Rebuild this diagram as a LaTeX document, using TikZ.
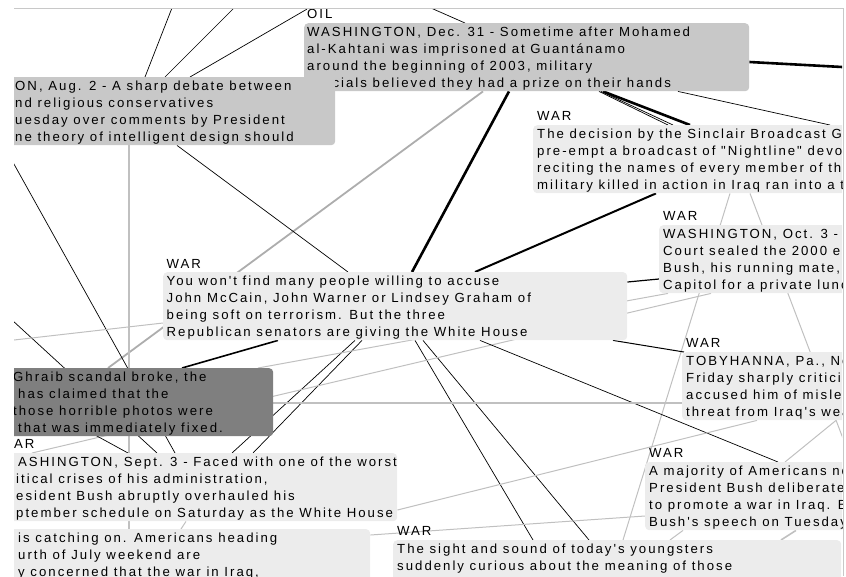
\documentclass[tikz,border=0pt]{standalone}
\usepackage{fontspec}
\newfontfamily\bx{Liberation Sans}[LetterSpace=15.2,Ligatures=TeXOff]
\usetikzlibrary{calc,backgrounds}
\definecolor{boxmid}{HTML}{C8C8C8}
\definecolor{boxlight}{HTML}{ECECEC}
\definecolor{boxdark}{HTML}{7F7F7F}
\definecolor{edgegray}{HTML}{C0C0C0}
\definecolor{framegray}{HTML}{C8C8C8}
\begin{document}
\begin{tikzpicture}[x=1pt,y=-1pt,
  card/.style={draw=none, rounded corners=4pt, anchor=north west, inner sep=0pt, minimum height=68pt},
  txt/.style={font=\bx\fontsize{13.2}{17}\selectfont, align=left, inner sep=0pt, anchor=north west, execute at begin node={\rule{0pt}{9.8pt}}},
  lbl/.style={font=\bx\fontsize{13.2}{17}\selectfont, inner sep=0pt, anchor=base west},
  thinline/.style={draw=black, line width=0.7pt},
  boldline/.style={draw=black, line width=2.6pt},
  midline/.style={draw=black, line width=1.6pt},
  grayline/.style={draw=edgegray, line width=1pt},
  grayboldline/.style={draw=edgegray!90!black, line width=1.8pt},
]
\useasboundingbox (0,0) rectangle (846,576);
\coordinate (t1) at (179,-10);
\coordinate (t2) at (252,-10);
\coordinate (t4) at (390,-10);
\coordinate (t5) at (870,68.5);
\coordinate (t12) at (0,139);
\coordinate (t13) at (0,309);
\coordinate (t14) at (0,341.6);
\coordinate (t21) at (850,457);
\coordinate (t31) at (0,383);
\coordinate (fr1) at (14,8);
\coordinate (fr2) at (843,8);
\coordinate (fr3) at (843,576);

\begin{scope}
\clip (14,8) rectangle (842,576);
% OIL box
\node[card, fill=boxmid, minimum width=445pt] (A) at (304,23) {};
\node[txt] (At) at (307,26.9) {WASHINGTON, Dec. 31 - Sometime after Mohamed\\al-Kahtani was imprisoned at Guantánamo\\around the beginning of 2003, military\\officials believed they had a prize on their hands};
\node[lbl] (Al) at (307,18.5) {OIL};
% Aug 2 box
\node[card, fill=boxmid, minimum width=325pt] (B) at (10,77) {};
\node[txt] (Bt) at (15,81.2) {ON, Aug. 2 - A sharp debate between\\nd religious conservatives\\uesday over comments by President\\ne theory of intelligent design should};
% Sinclair box
\node[card, fill=boxlight, minimum width=330pt] (C) at (533,125) {};
\node[txt] (Ct) at (537,129.2) {The decision by the Sinclair Broadcast Gr\\pre-empt a broadcast of "Nightline" devot\\reciting the names of every member of th\\military killed in action in Iraq ran into a to};
\node[lbl] (Cl) at (537,120.5) {WAR};
% Oct 3 box
\node[card, fill=boxlight, minimum width=220pt] (D) at (659,225) {};
\node[txt] (Dt) at (663,229.2) {WASHINGTON, Oct. 3 -\\Court sealed the 2000 e\\Bush, his running mate,\\Capitol for a private lunc};
\node[lbl] (Dl) at (663,220.5) {WAR};
% McCain box
\node[card, fill=boxlight, minimum width=464pt] (E) at (163,272) {};
\node[txt] (Et) at (166.5,276.2) {You won't find many people willing to accuse\\John McCain, John Warner or Lindsey Graham of\\being soft on terrorism. But the three\\Republican senators are giving the White House};
\node[lbl] (El) at (166.5,268.5) {WAR};
% Abu Ghraib box
\node[card, fill=boxdark, minimum width=263pt] (F) at (10,368) {};
\node[txt] (Ft) at (13,372.2) {Ghraib scandal broke, the\\\hspace*{5pt}has claimed that the\\those horrible photos were\\\hspace*{5pt}that was immediately fixed.};
% TOBYHANNA box
\node[card, fill=boxlight, minimum width=220pt] (I) at (682,352) {};
\node[txt] (It) at (686,356.2) {TOBYHANNA, Pa., No\\Friday sharply criticize\\accused him of mislea\\threat from Iraq's wea};
\node[lbl] (Il) at (686,347.5) {WAR};
% Majority box
\node[card, fill=boxlight, minimum width=250pt] (J) at (645,462) {};
\node[txt] (Jt) at (649,466.2) {A majority of Americans no\\President Bush deliberatel\\to promote a war in Iraq. B\\Bush's speech on Tuesday};
\node[lbl] (Jl) at (649,457.5) {WAR};
% Sept 3 box
\node[card, fill=boxlight, minimum width=387pt] (G) at (10,453) {};
\node[txt] (Gt) at (16,457.2) {\hspace*{2pt}ASHINGTON, Sept. 3 - Faced with one of the worst\\itical crises of his administration,\\esident Bush abruptly overhauled his\\ptember schedule on Saturday as the White House};
\node[lbl] (Gl) at (14,448.5) {AR};
% July box
\node[card, fill=boxlight, minimum width=360pt] (H) at (10,529) {};
\node[txt] (Ht) at (18,533.2) {is catching on. Americans heading\\urth of July weekend are\\y concerned that the war in Iraq,};
% Youngsters box
\node[card, fill=boxlight, minimum width=448pt] (K) at (393,540) {};
\node[txt] (Kt) at (397,544.2) {The sight and sound of today's youngsters\\suddenly curious about the meaning of those};
\node[lbl] (Kl) at (397,535.5) {WAR};
\end{scope}

\begin{pgfonlayer}{background}
\begin{scope}
\clip (14,8) rectangle (842,576);
\draw[thinline] (t1) -- ($(B.north west)+(135,0)$);
\draw[thinline] (t2) -- ($(B.north west)+(155,0)$);
\draw[thinline] (Al.north west) -- ($(B.north west)+(180,0)$);
\draw[thinline] (t4) -- ($(A.north west)+(161,0)$);
\draw[boldline] ($(A.north east)+(0,39)$) -- (t5);
\draw[boldline] ($(A.south west)+(299,0)$) -- ($(C.north west)+(157,0)$);
\draw[thinline] ($(A.south west)+(295,0)$) -- ($(C.north west)+(135,0)$);
\draw[thinline] ($(A.south west)+(297,0)$) -- ($(C.north west)+(140,0)$);
\draw[thinline] ($(A.south west)+(374,0)$) -- ($(C.north west)+(297,0)$);
\draw[boldline] ($(A.south west)+(205,0)$) -- ($(E.north west)+(249,0)$);
\draw[grayboldline] ($(A.south west)+(179,0)$) -- ($(F.north west)+(98,0)$);
\draw[thinline] ($(B.south west)+(167,0)$) -- ($(E.north west)+(185,0)$);
\draw[grayline, line width=1.3pt] ($(B.south west)+(119,0)$) -- ($(H.north west)+(119,0)$);
\draw[thinline] (t12) -- ($(G.north west)+(165,0)$);
\draw[thinline] (t13) -- ($(G.north west)+(147,0)$);
\draw[grayline] (t14) -- ($(E.north west)+(0,51)$);
\draw[midline] ($(E.south west)+(115,0)$) -- ($(F.north west)+(172,0)$);
\draw[thinline] ($(E.south west)+(192,0)$) -- ($(G.north west)+(222,0)$);
\draw[thinline] ($(E.south west)+(199,0)$) -- ($(G.north west)+(243,0)$);
\draw[thinline] ($(E.south west)+(252,0)$) -- ($(K.north west)+(140,0)$);
\draw[thinline] ($(E.south west)+(260,0)$) -- ($(K.north west)+(196,0)$);
\draw[grayline] ($(D.south west)+(9,0)$) -- ($(F.north west)+(248,0)$);
\draw[grayline] ($(D.south west)+(52,0)$) -- ($(G.north west)+(22,0)$);
\draw[midline, line width=1.2pt] ($(E.north east)+(0,10)$) -- ($(D.north west)+(0,54)$);
\draw[midline, line width=2pt] ($(E.north west)+(312,0)$) -- ($(C.south west)+(123,0)$);
\draw[grayline] ($(C.south west)+(197,0)$) -- ($(K.north west)+(230,0)$);
\draw[grayline] ($(C.south west)+(217,0)$) -- (t21);
\draw[thinline, line width=1pt] ($(E.south west)+(450,0)$) -- ($(I.north west)+(2,0)$);
\draw[thinline] ($(E.south west)+(317,0)$) -- ($(J.north west)+(133,0)$);
\draw[grayline, line width=1.3pt] ($(F.north east)+(0,35)$) -- ($(I.north west)+(0,51)$);
\draw[grayline] ($(I.south west)+(75,0)$) -- ($(G.north east)+(0,57)$);
\draw[grayline] ($(J.north west)+(0,54)$) -- ($(H.north east)+(0,6)$);
\draw[grayline] ($(J.south west)+(38,0)$) -- ($(K.north west)+(277,0)$);
\draw[grayline, line width=1.6pt] ($(J.south west)+(151,0)$) -- ($(K.north west)+(388,0)$);
\draw[grayline] ($(I.south west)+(154,0)$) -- ($(J.north west)+(140,0)$);
\draw[thinline] (t31) -- ($(G.north west)+(118,0)$);
\draw[grayline] ($(G.south west)+(176,0)$) -- ($(H.north west)+(171,0)$);
\end{scope}
\end{pgfonlayer}

\draw[draw=framegray, line width=1pt] (fr1) -- (fr2) -- (fr3);
\end{tikzpicture}
\end{document}
